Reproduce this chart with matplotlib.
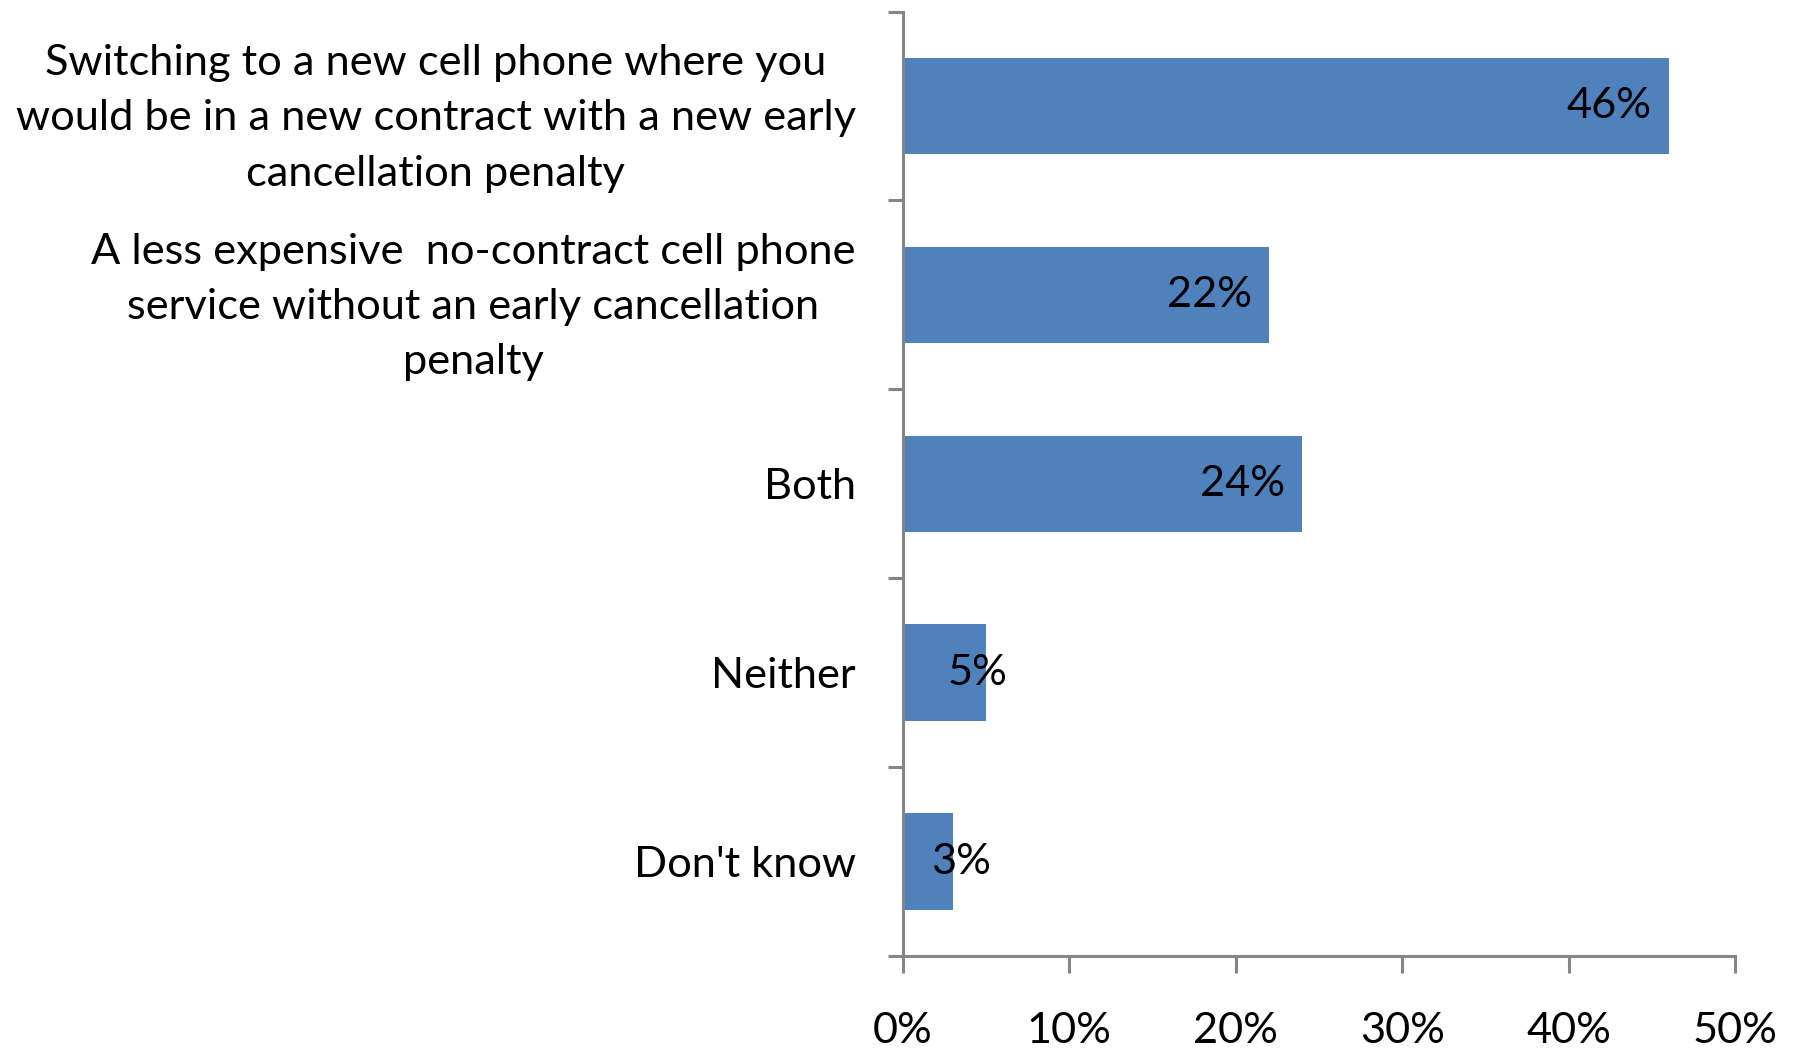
import matplotlib.pyplot as plt
import numpy as np

categories = [
    "Switching to a new cell phone where you\nwould be in a new contract with a new early\ncancellation penalty",
    "A less expensive  no-contract cell phone\nservice without an early cancellation\npenalty",
    "Both",
    "Neither",
    "Don't know",
]
values = [46, 22, 24, 5, 3]
value_labels = ["46%", "22%", "24%", "5%", "3%"]
x_ticks = [0, 10, 20, 30, 40, 50]
x_tick_labels = ["0%", "10%", "20%", "30%", "40%", "50%"]

plt.rcParams['font.family'] = ['Lato', 'DejaVu Sans']
fs = 31.2
axis_color = "#868686"

fig = plt.figure(figsize=(17.95, 10.52), dpi=100)
ax = fig.add_axes([0.503, 0.0913, 0.4637, 0.8977])

pos = np.arange(len(categories))[::-1]
ax.barh(pos, values, height=0.51, color="#4F81BD")

# labels inside the bar end; short bars get them around the end
for p, v, lab in zip(pos, values, value_labels):
    if v > 10:
        ax.text(v - 1.05, p, lab, ha="right", va="center", fontsize=fs)
    else:
        ax.text((v + 4) / 2, p, lab, ha="center", va="center", fontsize=fs)

ax.set_xlim(0, 50)
ax.set_ylim(-0.5, len(categories) - 0.5)
ax.set_xticks(x_ticks)
ax.set_xticklabels(x_tick_labels, fontsize=fs)
ax.set_yticks(pos)
ax.set_yticklabels(categories, fontsize=fs, multialignment="center", linespacing=1.56)
ax.set_yticks(np.arange(-0.5, len(categories)), minor=True)

for s in ["top", "right"]:
    ax.spines[s].set_visible(False)
for s in ["left", "bottom"]:
    ax.spines[s].set_color(axis_color)
    ax.spines[s].set_linewidth(2.2)

ax.tick_params(axis="y", which="major", length=0, pad=34)
ax.tick_params(axis="y", which="minor", length=11, width=2.2, color=axis_color)
ax.tick_params(axis="x", which="major", length=12, width=2.2, color=axis_color, pad=28)

plt.savefig("out.png", dpi=100)
